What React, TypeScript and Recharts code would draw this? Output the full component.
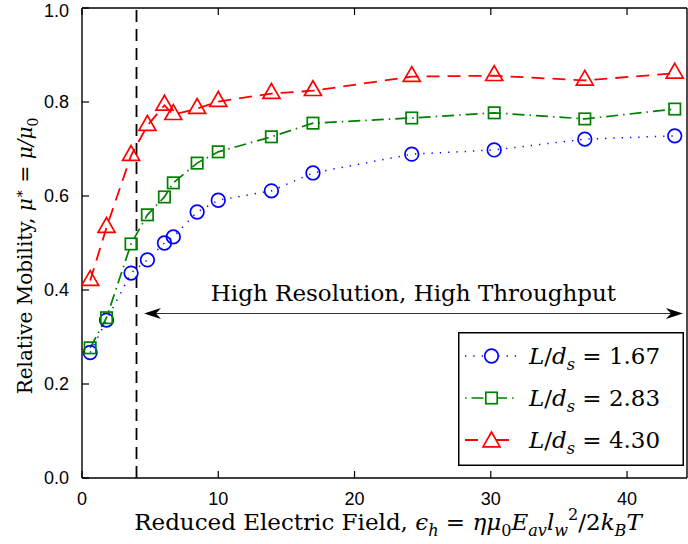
import React from "react";
import { LineChart, Line, XAxis, YAxis, ReferenceLine, Legend, Customized } from "recharts";

// reduced electric field (x) shared by all three runs
const fieldValues = [0.6, 1.8, 3.6, 4.8, 6.05, 6.7, 8.45, 10.0, 13.9, 16.95, 24.2, 30.25, 36.9, 43.5];
// relative mobility for each L/d_s
const mobility167 = [0.267, 0.336, 0.436, 0.464, 0.5, 0.513, 0.566, 0.591, 0.611, 0.649, 0.689, 0.698, 0.721, 0.728];
const mobility283 = [0.277, 0.341, 0.498, 0.56, 0.598, 0.628, 0.67, 0.694, 0.726, 0.755, 0.766, 0.777, 0.764, 0.785];
const mobility430 = [0.42, 0.533, 0.686, 0.75, 0.793, 0.773, 0.786, 0.801, 0.818, 0.824, 0.854, 0.856, 0.846, 0.861];

const xTicks = [0, 10, 20, 30, 40];
const yTicks = [0, 0.2, 0.4, 0.6, 0.8, 1.0];
const xDomain = [0, 44.4];
const cutoffField = 4;
const arrowSpan = [4.55, 44.1];
const arrowLevel = 0.35;
const legendLabels = ["1.67", "2.83", "4.30"];

const data = fieldValues.map((x, i) => ({
  x,
  a: mobility167[i],
  b: mobility283[i],
  c: mobility430[i],
}));

const SERIF = "DejaVu Serif";
const SANS = "Liberation Sans";
const BLUE = "#0000ff";
const GREEN = "#008000";
const RED = "#ff0000";

type Seg = { t: string; i?: boolean; s?: number; dx?: number };

function MathText({ segs, size, ...rest }: any) {
  let level = 0;
  return (
    <text fontFamily={SERIF} fontSize={size} fill="#000" {...rest}>
      {segs.map((g: Seg, k: number) => {
        const lv = g.s ?? 0;
        const off = lv > 0 ? -0.42 * size : lv < 0 ? 0.28 * size : 0;
        const dy = off - level;
        level = off;
        return (
          <tspan key={k} dy={dy} dx={g.dx} fontStyle={g.i ? "italic" : "normal"} fontSize={lv ? size * 0.7 : size}>
            {g.t}
          </tspan>
        );
      })}
    </text>
  );
}

const circleDot = (p: any) => (
  <circle key={p.index} cx={p.cx} cy={p.cy} r={6.8} fill="none" stroke={BLUE} strokeWidth={1.7} />
);
const squareDot = (p: any) => (
  <rect key={p.index} x={p.cx - 5.7} y={p.cy - 5.7} width={11.4} height={11.4} fill="none" stroke={GREEN} strokeWidth={1.7} />
);
const triPath = (cx: number, cy: number) =>
  `M${cx},${cy - 10} L${cx + 8.5},${cy + 4.8} L${cx - 8.5},${cy + 4.8} Z`;
const triDot = (p: any) => (
  <path key={p.index} d={triPath(p.cx, p.cy)} fill="none" stroke={RED} strokeWidth={1.7} />
);

const lineStyles = [
  { color: BLUE, dash: "1.3 7", width: 1.5, mark: "o" },
  { color: GREEN, dash: "1.5 5 12 5", width: 1.7, mark: "s" },
  { color: RED, dash: "13 18", width: 1.8, mark: "t" },
];

function LegendBox() {
  return (
    <svg width={226} height={134} style={{ display: "block" }}>
      <rect x={0.75} y={0.75} width={224.5} height={132.5} fill="#fff" stroke="#000" strokeWidth={1.5} />
      {lineStyles.map((st, i) => {
        const cy = 24 + i * 42;
        return (
          <g key={i}>
            <line x1={7} x2={60} y1={cy} y2={cy} stroke={st.color} strokeWidth={st.width} strokeDasharray={st.dash} />
            {st.mark === "o" && <circle cx={33.5} cy={cy} r={6.8} fill="#fff" stroke={st.color} strokeWidth={1.7} />}
            {st.mark === "s" && <rect x={27.8} y={cy - 5.7} width={11.4} height={11.4} fill="#fff" stroke={st.color} strokeWidth={1.7} />}
            {st.mark === "t" && <path d={triPath(33.5, cy + 2)} fill="#fff" stroke={st.color} strokeWidth={1.7} />}
            <MathText
              x={71}
              y={cy + 8}
              size={23}
              segs={[
                { t: "L", i: true },
                { t: "/" },
                { t: "d", i: true },
                { t: "s", i: true, s: -1 },
                { t: " = " + legendLabels[i] },
              ]}
            />
          </g>
        );
      })}
    </svg>
  );
}

function ArrowShape(p: any) {
  const { x1, x2, y1 } = p;
  const y = y1;
  const left = Math.min(x1, x2);
  const right = Math.max(x1, x2);
  const mid = (left + right) / 2;
  return (
    <g>
      <line x1={left + 10} x2={right - 10} y1={y} y2={y} stroke="#333" strokeWidth={1.2} />
      <path d={`M${left},${y} L${left + 17},${y - 5.5} L${left + 12},${y} L${left + 17},${y + 5.5} Z`} fill="#000" />
      <path d={`M${right},${y} L${right - 17},${y - 5.5} L${right - 12},${y} L${right - 17},${y + 5.5} Z`} fill="#000" />
      <text x={mid} y={y - 13} textAnchor="middle" fontFamily={SERIF} fontSize={23} fill="#000">
        High Resolution, High Throughput
      </text>
    </g>
  );
}

function AxisTitles() {
  return (
    <g>
      <MathText
        x={388}
        y={530}
        size={23}
        textAnchor="middle"
        segs={[
          { t: "Reduced Electric Field, " },
          { t: "ϵ", i: true },
          { t: "h", i: true, s: -1 },
          { t: " = " },
          { t: "ημ", i: true },
          { t: "0", s: -1 },
          { t: "E", i: true },
          { t: "av", i: true, s: -1 },
          { t: "l", i: true },
          { t: "w", i: true, s: -1 },
          { t: "2", s: 1 },
          { t: "/2" },
          { t: "k", i: true },
          { t: "B", i: true, s: -1 },
          { t: "T", i: true },
        ]}
      />
      <MathText
        x={32}
        y={256}
        size={20}
        textAnchor="middle"
        transform="rotate(-90, 32, 256)"
        segs={[
          { t: "Relative Mobility, " },
          { t: "μ", i: true },
          { t: "∗", s: 1 },
          { t: " = " },
          { t: "μ/μ", i: true },
          { t: "0", s: -1 },
        ]}
      />
    </g>
  );
}

const tickStyle = { fontFamily: SANS, fontSize: 18, fill: "#000" };

export default function App() {
  return (
    <div style={{ position: "absolute", left: 0, top: 0, background: "#fff" }}>
      <LineChart width={688} height={544} data={data} margin={{ top: 7, right: 0, bottom: 0, left: 0 }}>
        <XAxis
          dataKey="x"
          type="number"
          domain={xDomain}
          ticks={xTicks}
          allowDataOverflow
          height={66}
          tickSize={-7}
          tickMargin={21}
          tick={tickStyle}
          axisLine={{ stroke: "#000", strokeWidth: 1.4 }}
          tickLine={{ stroke: "#000", strokeWidth: 1.2 }}
        />
        <XAxis
          xAxisId="top"
          orientation="top"
          dataKey="x"
          type="number"
          domain={xDomain}
          ticks={xTicks}
          allowDataOverflow
          height={1}
          tickSize={-7}
          tickFormatter={() => ""}
          axisLine={{ stroke: "#000", strokeWidth: 1.4 }}
          tickLine={{ stroke: "#000", strokeWidth: 1.2 }}
        />
        <YAxis
          type="number"
          domain={[0, 1]}
          ticks={yTicks}
          width={82}
          tickSize={-7}
          tickMargin={20}
          tick={tickStyle}
          tickFormatter={(v: number) => v.toFixed(1)}
          axisLine={{ stroke: "#000", strokeWidth: 1.4 }}
          tickLine={{ stroke: "#000", strokeWidth: 1.2 }}
        />
        <YAxis
          yAxisId="right"
          orientation="right"
          type="number"
          domain={[0, 1]}
          ticks={yTicks}
          width={1}
          tickSize={-7}
          tickFormatter={() => ""}
          axisLine={{ stroke: "#000", strokeWidth: 1.4 }}
          tickLine={{ stroke: "#000", strokeWidth: 1.2 }}
        />
        <ReferenceLine x={cutoffField} stroke="#000" strokeWidth={1.8} strokeDasharray="12 7" />
        <ReferenceLine
          segment={[
            { x: arrowSpan[0], y: arrowLevel },
            { x: arrowSpan[1], y: arrowLevel },
          ]}
          shape={ArrowShape}
        />
        <Line dataKey="a" stroke={BLUE} strokeWidth={1.5} strokeDasharray="1.3 7" dot={circleDot} isAnimationActive={false} />
        <Line dataKey="b" stroke={GREEN} strokeWidth={1.7} strokeDasharray="12 5 1.5 5" dot={squareDot} isAnimationActive={false} />
        <Line dataKey="c" stroke={RED} strokeWidth={1.8} strokeDasharray="13 8" dot={triDot} isAnimationActive={false} />
        <Legend
          layout="horizontal"
          verticalAlign="middle"
          content={() => <LegendBox />}
          wrapperStyle={{ left: 458, top: 332, width: 226, height: 134 }}
        />
        <Customized component={AxisTitles} />
      </LineChart>
    </div>
  );
}
